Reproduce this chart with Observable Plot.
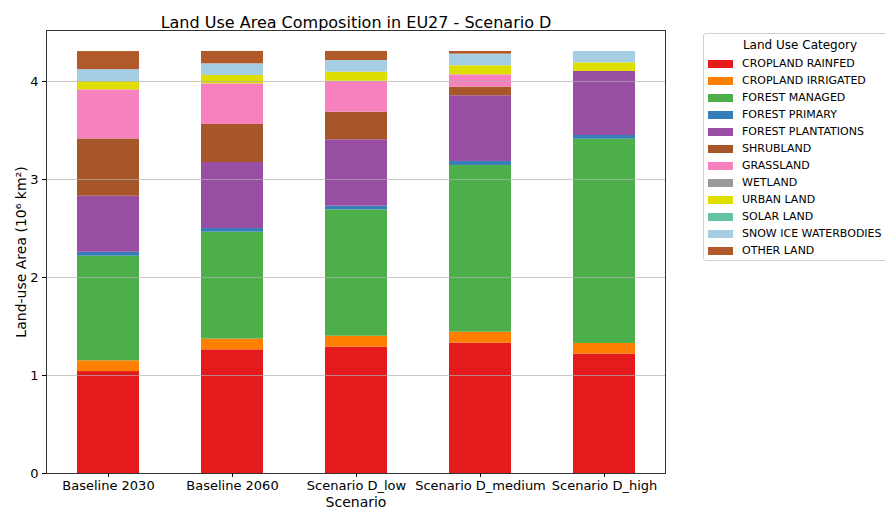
<!DOCTYPE html>
<html>
<head>
<meta charset="utf-8">
<script src="https://cdn.jsdelivr.net/npm/d3@7"></script>
<script src="https://cdn.jsdelivr.net/npm/@observablehq/plot@0.6"></script>
<style>
  html, body { margin: 0; padding: 0; background: #fff; }
  #wrap { position: relative; width: 885px; height: 512px; overflow: hidden; font-family: "DejaVu Sans", sans-serif; }
  #legend { position: absolute; left: 703px; top: 33px; width: 200px; height: 228px; border: 1px solid #d0d0d0; border-radius: 3px; background: #fff; box-sizing: border-box; }
  #legend .ttl { position: absolute; left: 0; width: 192px; top: 4px; text-align: center; font-size: 12px; color: #000; }
  #legend .row { position: absolute; left: 4px; height: 17px; display: flex; align-items: center; font-size: 11px; color: #000; white-space: nowrap; }
  #legend .sw { width: 25px; height: 8px; margin-right: 9px; }
</style>
</head>
<body>
<div id="wrap"><div id="chart"></div><div id="legend"></div></div>
<script>
const title = "Land Use Area Composition in EU27 - Scenario D";
const scenarios = ["Baseline 2030", "Baseline 2060", "Scenario D_low", "Scenario D_medium", "Scenario D_high"];
const categories = ["CROPLAND RAINFED", "CROPLAND IRRIGATED", "FOREST MANAGED", "FOREST PRIMARY", "FOREST PLANTATIONS", "SHRUBLAND", "GRASSLAND", "WETLAND", "URBAN LAND", "SOLAR LAND", "SNOW ICE WATERBODIES", "OTHER LAND"];
const colors = ["#e41a1c", "#ff7f00", "#4daf4a", "#377eb8", "#984ea3", "#a65628", "#f781bf", "#999999", "#dede00", "#66c2a5", "#a6cee3", "#b15928"];
const yTicks = [0, 1, 2, 3, 4];

const croplandRainfed    = [1.040, 1.262, 1.289, 1.330, 1.218];
const croplandIrrigated  = [0.110, 0.109, 0.112, 0.112, 0.109];
const forestManaged      = [1.067, 1.091, 1.289, 1.701, 2.084];
const forestPrimary      = [0.040, 0.038, 0.038, 0.041, 0.038];
const forestPlantations  = [0.572, 0.673, 0.677, 0.670, 0.653];
const shrubland          = [0.585, 0.388, 0.282, 0.088, 0.000];
const grassland          = [0.500, 0.415, 0.316, 0.126, 0.000];
const wetland            = [0.000, 0.000, 0.000, 0.000, 0.000];
const urbanLand          = [0.085, 0.085, 0.092, 0.092, 0.088];
const solarLand          = [0.000, 0.000, 0.000, 0.000, 0.000];
const snowIceWaterbodies = [0.122, 0.119, 0.119, 0.119, 0.116];
const otherLand          = [0.184, 0.126, 0.092, 0.027, 0.000];

const seriesValues = [croplandRainfed, croplandIrrigated, forestManaged, forestPrimary, forestPlantations, shrubland, grassland, wetland, urbanLand, solarLand, snowIceWaterbodies, otherLand];

const data = [];
scenarios.forEach((s, i) => {
  categories.forEach((c, j) => {
    data.push({scenario: s, category: c, value: seriesValues[j][i]});
  });
});

const chart = Plot.plot({
  width: 885,
  height: 512,
  marginLeft: 46,
  marginRight: 220,
  marginTop: 30,
  marginBottom: 39,
  style: {fontFamily: "DejaVu Sans, sans-serif", fontSize: "12px", color: "#000", background: "#fff"},
  x: {domain: scenarios, paddingInner: 0.5, paddingOuter: 0.24},
  y: {domain: [0, 4.52]},
  color: {domain: categories, range: colors},
  marks: [
    Plot.barY(data, Plot.stackY({order: categories}, {x: "scenario", y: "value", fill: "category"})),
    Plot.gridY(yTicks, {stroke: "#b0b0b0", strokeOpacity: 0.7, strokeWidth: 1}),
    Plot.frame({stroke: "#333", strokeWidth: 1}),
    Plot.axisY(yTicks, {tickSize: 4, tickPadding: 4, fontSize: 13, tickFormat: d3.format("d"), label: "Land-use Area (10⁶ km²)", labelAnchor: "center", labelArrow: false, labelOffset: 30}),
    Plot.axisX({tickSize: 4, tickPadding: 3, fontSize: 13, label: "Scenario", labelAnchor: "center", labelArrow: false, labelOffset: 33}),
    Plot.text([title], {frameAnchor: "top", dy: -14, text: d => d, fontSize: 16, fill: "#000"})
  ]
});
document.getElementById("chart").appendChild(chart);

chart.querySelectorAll("[aria-label='y-axis label'] text, [aria-label='x-axis label'] text").forEach(t => t.setAttribute("font-size", "14"));

const legend = document.getElementById("legend");
const ttl = document.createElement("div");
ttl.className = "ttl";
ttl.textContent = "Land Use Category";
legend.appendChild(ttl);
categories.forEach((c, i) => {
  const row = document.createElement("div");
  row.className = "row";
  row.style.top = (21 + i * 17) + "px";
  const sw = document.createElement("div");
  sw.className = "sw";
  sw.style.background = colors[i];
  const lab = document.createElement("span");
  lab.textContent = c;
  row.appendChild(sw);
  row.appendChild(lab);
  legend.appendChild(row);
});
</script>
</body>
</html>
